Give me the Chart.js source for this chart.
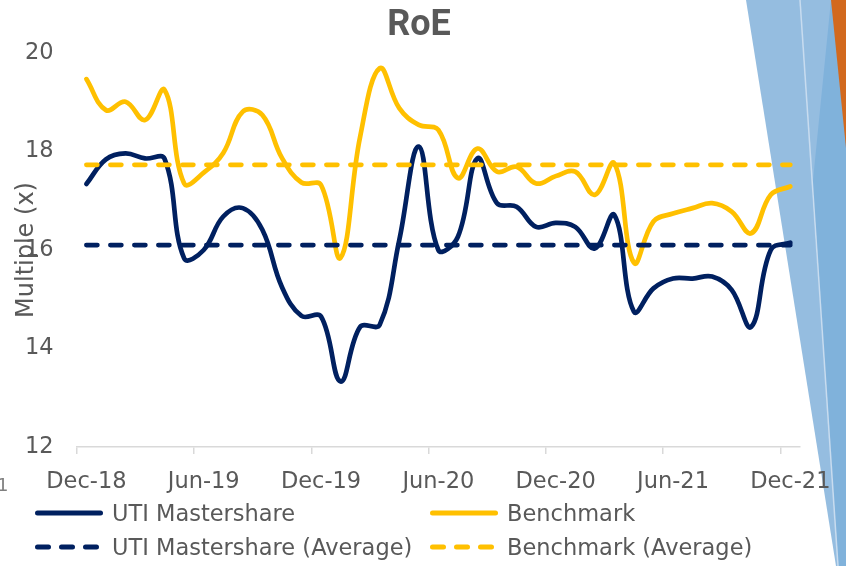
<!DOCTYPE html>
<html>
<head>
<meta charset="utf-8">
<title>RoE</title>
<script src="https://cdn.jsdelivr.net/npm/chart.js@4.4.1/dist/chart.umd.min.js"></script>
<style>
  html, body { margin: 0; padding: 0; background: #fff; overflow: hidden; }
  #wrap { position: relative; width: 846px; height: 566px; overflow: hidden; font-family: 'DejaVu Sans', sans-serif; color: #595959; }
  #deco { position: absolute; left: 0; top: 0; }
  #chartBox { position: absolute; left: 0; top: 0; width: 846px; height: 566px; }
  #title { position: absolute; left: 319px; top: 2px; width: 200px; text-align: center; font: bold 36px Roboto, sans-serif; color: #595959; }
  .item { position: absolute; display: flex; align-items: center; font-size: 22.5px; white-space: nowrap; line-height: 1; }
  .item svg { margin-right: 9px; }
  #stray { position: absolute; left: -3px; top: 474px; font-size: 18px; color: #7f7f7f; }
</style>
</head>
<body>
<div id="wrap">
  <svg id="deco" width="846" height="566">
    <polygon points="746,0 846,0 846,566 836,566" fill="#95bde0"/>
    <polygon points="831,0 846,0 846,566 838,566 812,190" fill="#80b2db"/>
    <polygon points="831,0 846,0 846,148" fill="#d2691e"/>
    <line x1="800" y1="0" x2="838" y2="566" stroke="#c8dcef" stroke-width="1.5"/>
  </svg>
  <div id="chartBox"><canvas id="roeChart"></canvas></div>
  <div id="title">RoE</div>
  <div id="legend"></div>
  <span id="stray">1</span>
</div>

<script>
// RoE — UTI Mastershare vs Benchmark, monthly Dec-18 .. Dec-21

const months = [
  'Dec-18','Jan-19','Feb-19','Mar-19','Apr-19','May-19','Jun-19','Jul-19','Aug-19','Sep-19','Oct-19','Nov-19',
  'Dec-19','Jan-20','Feb-20','Mar-20','Apr-20','May-20','Jun-20','Jul-20','Aug-20','Sep-20','Oct-20','Nov-20',
  'Dec-20','Jan-21','Feb-21','Mar-21','Apr-21','May-21','Jun-21','Jul-21','Aug-21','Sep-21','Oct-21','Nov-21',
  'Dec-21'
];
const utiRoe = [
  17.34, 17.84, 17.96, 17.86, 17.85, 15.83, 16.0, 16.68, 16.85, 16.41, 15.25, 14.66,
  14.65, 13.33, 14.44, 14.48, 16.2, 18.1, 16.0, 16.27, 17.86, 16.95, 16.88, 16.47,
  16.55, 16.47, 16.03, 16.71, 14.75, 15.22, 15.42, 15.42, 15.46, 15.19, 14.44, 16.0,
  16.15
];
const benchRoe = [
  19.47, 18.84, 19.01, 18.64, 19.25, 17.35, 17.57, 17.97, 18.81, 18.74, 17.87, 17.37,
  17.32, 15.84, 18.3, 19.69, 18.88, 18.54, 18.44, 17.46, 18.06, 17.59, 17.69, 17.35,
  17.5, 17.59, 17.12, 17.76, 15.74, 16.58, 16.74, 16.85, 16.95, 16.78, 16.34, 17.12,
  17.29
];
const utiAvg = 16.1;
const benchAvg = 17.73;
const yTicks = [12, 14, 16, 18, 20];

// colours
const navy = '#002060';
const gold = '#ffc000';
const grey = '#595959';
const axisGrey = '#d9d9d9';

const font = { family: "'DejaVu Sans', sans-serif", size: 22.5 };

function lineSet(label, data, color, dashed, order) {
  return {
    label, data, order,
    borderColor: color,
    backgroundColor: color,
    borderWidth: 4.7,
    borderDash: dashed ? [11, 13] : [],
    borderCapStyle: 'round',
    borderJoinStyle: 'round',
    tension: dashed ? 0 : 0.4,
    pointRadius: 0,
    fill: false
  };
}

const ctx = document.getElementById('roeChart').getContext('2d');
const chart = new Chart(ctx, {
  type: 'line',
  data: {
    labels: months,
    datasets: [
      lineSet('UTI Mastershare', utiRoe, navy, false, 4),
      lineSet('Benchmark', benchRoe, gold, false, 3),
      lineSet('UTI Mastershare (Average)', months.map(() => utiAvg), navy, true, 2),
      lineSet('Benchmark (Average)', months.map(() => benchAvg), gold, true, 1)
    ]
  },
  options: {
    responsive: true,
    maintainAspectRatio: false,
    animation: false,
    layout: { padding: { top: 53, right: 39, bottom: 69, left: 0 } },
    plugins: {
      legend: { display: false },
      title: { display: false },
      tooltip: { enabled: false }
    },
    scales: {
      x: {
        type: 'category',
        offset: true,
        afterFit: (s) => { s.height = 50; },
        grid: {
          offset: true,
          drawOnChartArea: false,
          drawTicks: true,
          tickLength: 7,
          lineWidth: 1.5,
          color: (c) => (c.index % 6 === 0 ? axisGrey : 'rgba(0,0,0,0)')
        },
        border: { display: true, color: axisGrey, width: 1.5 },
        ticks: {
          autoSkip: false,
          maxRotation: 0,
          padding: 15,
          color: grey,
          font,
          callback: function (value, index) {
            return index % 6 === 0 ? this.getLabelForValue(value) : '';
          }
        }
      },
      y: {
        min: 12,
        max: 20,
        afterFit: (s) => { s.width = 76.6; },
        afterBuildTicks: (s) => { s.ticks = yTicks.map(v => ({ value: v })); },
        grid: { display: false, drawTicks: false },
        border: { display: false },
        ticks: { padding: 23, color: grey, font },
        title: {
          display: true,
          text: 'Multiple (x)',
          color: grey,
          font: { family: "'DejaVu Sans', sans-serif", size: 24 },
          padding: { top: 12, bottom: 0 }
        }
      }
    }
  }
});

// legend: two columns, built from the datasets
const legendBox = document.getElementById('legend');
chart.data.datasets.forEach((ds, i) => {
  const col = i % 2, row = Math.floor(i / 2);
  const item = document.createElement('div');
  item.className = 'item';
  item.style.left = (col ? 430 : 35) + 'px';
  item.style.top = (row ? 534 : 500) + 'px';
  const dash = ds.borderDash.length ? 'stroke-dasharray="11 13"' : '';
  item.innerHTML = `
    <svg width="68" height="26"><line x1="2.5" y1="13" x2="65.5" y2="13" stroke="${ds.borderColor}"
      stroke-width="5" stroke-linecap="round" ${dash}/></svg>
    <span>${ds.label}</span>`;
  legendBox.appendChild(item);
});
</script>
</body>
</html>
